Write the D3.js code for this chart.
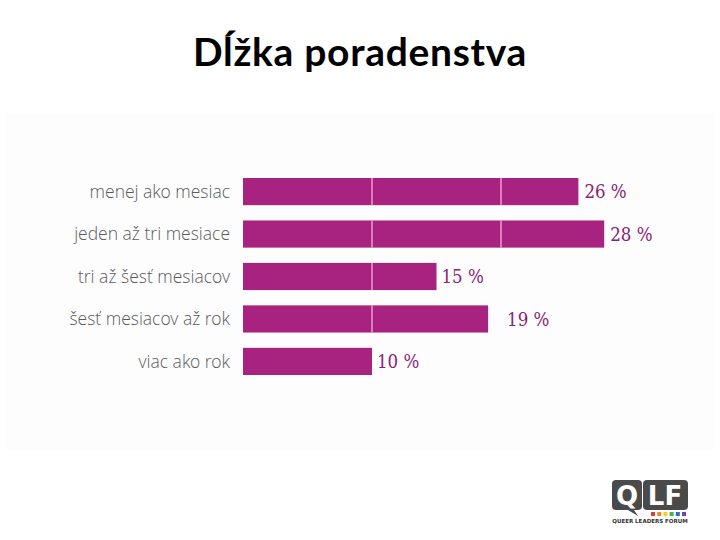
<!DOCTYPE html>
<html>
<head>
<meta charset="utf-8">
<script src="https://cdn.jsdelivr.net/npm/d3@7"></script>
<style>
  html, body { margin: 0; padding: 0; background: #ffffff; }
  svg { display: block; }
</style>
</head>
<body>
<svg id="chart" width="720" height="540"></svg>
<script>
// ---- data ----
const title = "Dĺžka poradenstva";
const categories = ["menej ako mesiac", "jeden až tri mesiace", "tri až šesť mesiacov", "šesť mesiacov až rok", "viac ako rok"];
const values = [26, 28, 15, 19, 10];
const valueLabels = ["26 %", "28 %", "15 %", "19 %", "10 %"];
const gridTicks = [10, 20];
const logoText = "QUEER LEADERS FORUM";
const logoColors = ["#e03c3c", "#f08a24", "#f2d21f", "#4cae4c", "#2f6fc4", "#7b3fa0"];

// ---- layout ----
const labelDx = [6, 6, 5, 19, 5];
const svg = d3.select("#chart");
const W = 720, H = 540;

svg.append("rect").attr("x", 0).attr("y", 0).attr("width", W).attr("height", H).attr("fill", "#ffffff");
svg.append("rect").attr("x", 5).attr("y", 113).attr("width", 710).attr("height", 337).attr("fill", "#fdfdfd");

svg.append("text")
  .attr("x", 360).attr("y", 66)
  .attr("text-anchor", "middle")
  .attr("font-family", "Lato, 'Open Sans', sans-serif")
  .attr("font-weight", 700)
  .attr("font-size", 39)
  .attr("letter-spacing", 0.7)
  .attr("fill", "#000")
  .text(title);

const x = d3.scaleLinear().domain([0, 30]).range([243, 630]);
const y = d3.scaleBand().domain(categories).range([178, 375]).paddingInner(0.36).paddingOuter(0);

const rows = svg.append("g").selectAll("g").data(categories).join("g");

rows.append("rect")
  .attr("x", x(0))
  .attr("y", d => y(d))
  .attr("width", (d, i) => x(values[i]) - x(0))
  .attr("height", y.bandwidth())
  .attr("fill", "#a8237f");

// grid lines only within bars
rows.each(function(d, i) {
  const g = d3.select(this);
  gridTicks.filter(t => t < values[i]).forEach(t => {
    g.append("line")
      .attr("x1", x(t)).attr("x2", x(t))
      .attr("y1", y(d)).attr("y2", y(d) + y.bandwidth())
      .attr("stroke", "#ee9ad3").attr("stroke-width", 1.5);
  });
});

rows.append("text")
  .attr("x", x(0) - 13)
  .attr("y", d => y(d) + y.bandwidth() / 2)
  .attr("dy", "0.35em")
  .attr("text-anchor", "end")
  .attr("font-family", "'Open Sans Light', 'Open Sans', sans-serif")
  .attr("font-weight", 300)
  .attr("font-size", 17.5)
  .attr("fill", "#5a5a5a")
  .text(d => d);

rows.append("text")
  .attr("x", (d, i) => x(values[i]) + labelDx[i])
  .attr("y", d => y(d) + y.bandwidth() / 2)
  .attr("dy", "0.36em")
  .attr("font-family", "'DejaVu Serif Condensed', 'DejaVu Serif', serif")
  .attr("font-size", 18.5)
  .attr("fill", "#8a2272")
  .text((d, i) => valueLabels[i]);

// ---- logo ----
const logo = svg.append("g");
logo.append("path")
  .attr("d", "M616,480 h22 a4,4 0 0 1 4,4 v22 a4,4 0 0 1 -4,4 h-4 l4,6 l-10,-6 h-12 a4,4 0 0 1 -4,-4 v-22 a4,4 0 0 1 4,-4 z")
  .attr("fill", "#4a4a4a");
logo.append("rect").attr("x", 643).attr("y", 480).attr("width", 45).attr("height", 30).attr("rx", 4).attr("fill", "#4a4a4a");
logo.append("text").attr("x", 627).attr("y", 505).attr("text-anchor", "middle")
  .attr("font-family", "'DejaVu Sans', sans-serif").attr("font-weight", 700).attr("font-size", 26).attr("fill", "#fff").text("Q");
logo.append("text").attr("x", 665).attr("y", 505).attr("text-anchor", "middle")
  .attr("font-family", "'DejaVu Sans', sans-serif").attr("font-weight", 700).attr("font-size", 26).attr("fill", "#fff").text("LF");
logo.selectAll("rect.dot").data(logoColors).join("rect")
  .attr("class", "dot")
  .attr("x", (d, i) => 651 + i * 6.2)
  .attr("y", 512)
  .attr("width", 4).attr("height", 4)
  .attr("fill", d => d);
logo.append("text").attr("x", 650).attr("y", 523).attr("text-anchor", "middle")
  .attr("font-family", "'DejaVu Sans', sans-serif").attr("font-weight", 700).attr("font-size", 5.5)
  .attr("fill", "#333").text(logoText);
</script>
</body>
</html>
